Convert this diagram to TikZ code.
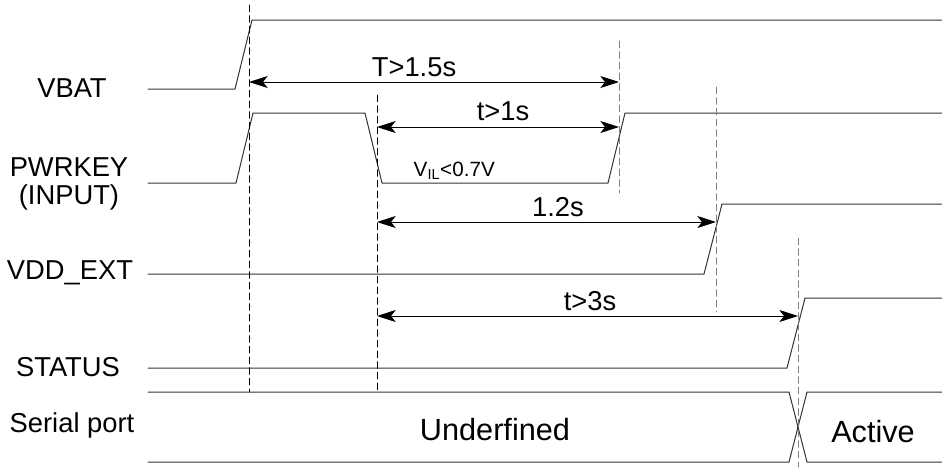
\documentclass[tikz,border=0pt]{standalone}
\usepackage{fontspec}
\setmainfont{Liberation Sans}
\usetikzlibrary{arrows.meta}

\begin{document}
\begin{tikzpicture}[x=0.75pt,y=-0.75pt,line cap=round,line join=round,>={Stealth[length=14pt,width=9pt,inset=3.5pt]},
  sig/.style={line width=0.75pt,black!80},
  guide/.style={line width=0.6pt,dash pattern=on 5pt off 3pt},
  dim/.style={<->,line width=0.75pt},
  lbl/.style={font=\fontsize{20.5}{21}\selectfont,align=center},
  big/.style={font=\fontsize{23}{25}\selectfont}]
\useasboundingbox (0,0) rectangle (942,468);
% signal names
\node[lbl] (vbat) at (72,88) {VBAT};
\node[lbl] (pwrkey) at (69,184) {PWRKEY\\(INPUT)};
\node[lbl] (vddext) at (70,273) {VDD\_EXT};
\node[lbl] (status) at (68,367) {STATUS};
\node[lbl] (serial) at (72,425) {Serial port};
% waveforms
\draw[sig] (148,89) -- (235,89) -- (252,20) -- (942,20);
\draw[sig] (148,183) -- (236,183) -- (253,113) -- (365,113) -- (382,183) -- (608,183) -- (625,113) -- (942,113);
\draw[sig] (148,274) -- (704,274) -- (722,204) -- (942,204);
\draw[sig] (148,368) -- (787,368) -- (805,298) -- (942,298);
\draw[sig] (148,392) -- (789,392) -- (807,462) -- (942,462);
\draw[sig] (148,462) -- (789,462) -- (807,392) -- (942,392);
\node[big] (undef) at (495,430) {Underfined};
\node[big] (active) at (873,432) {Active};
% timing marks
\coordinate (m0a) at (249,5);   \coordinate (m0b) at (249,392);
\coordinate (m1a) at (377,95);  \coordinate (m1b) at (377,392);
\coordinate (m2a) at (619,41);  \coordinate (m2b) at (619,193);
\coordinate (m3a) at (716,87);  \coordinate (m3b) at (716,312);
\coordinate (m4a) at (798,238); \coordinate (m4b) at (798,467);
\draw[guide] (m0a) -- (m0b);
\draw[guide] (m1a) -- (m1b);
\draw[guide,gray] (m2a) -- (m2b);
\draw[guide,gray] (m3a) -- (m3b);
\draw[guide,gray] (m4a) -- (m4b);
% durations
\draw[dim] (m0a |- 0,82) -- (m2a |- 0,82);
\node[lbl] (tpress) at (414,67) {T>1.5s};
\draw[dim] (m1a |- 0,127) -- (m2a |- 0,127);
\node[lbl] (tlow) at (503,111) {t>1s};
\node[anchor=west,font=\fontsize{15.5}{17}\selectfont] (vil) at (409,171) {V\textsubscript{IL}<0.7V};
\draw[dim] (m1a |- 0,222) -- (m3a |- 0,222);
\node[lbl] (tvdd) at (558,207) {1.2s};
\draw[dim] (m1a |- 0,316) -- (m4a |- 0,316);
\node[lbl] (tstat) at (590,301) {t>3s};
\end{tikzpicture}
\end{document}
